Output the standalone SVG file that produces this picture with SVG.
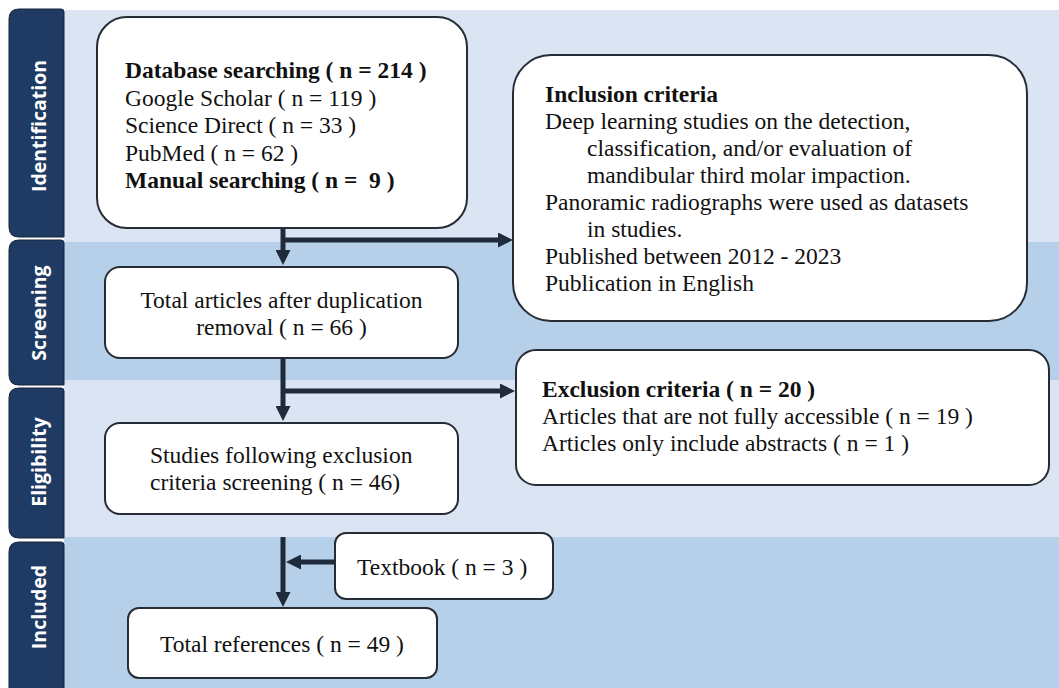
<svg xmlns="http://www.w3.org/2000/svg" width="1059" height="688" viewBox="0 0 1059 688">
<style>
.band-light{fill:#dae4f3}
.band-dark{fill:#b7d0ea}
.tab{fill:#1f3a63;stroke:#16243a;stroke-width:1}
.tabtxt{font-family:"Open Sans","DejaVu Sans",sans-serif;font-weight:bold;font-size:19.5px;fill:#ffffff;text-anchor:middle}
.box{fill:#ffffff;stroke:#262c35;stroke-width:2}
.t{font-family:"Liberation Serif","Times New Roman",serif;font-size:23.5px;fill:#111111}
.b{font-weight:bold}
.c{text-anchor:middle}
.conn{stroke:#1f2b3a;stroke-width:5;fill:none}
</style>
<defs>
<marker id="ah" markerUnits="userSpaceOnUse" markerWidth="16" markerHeight="15" refX="1" refY="7.5" orient="auto">
<path d="M0,0 L15,7.5 L0,15 z" fill="#1f2b3a"/>
</marker>
</defs>
<rect width="1059" height="688" fill="#ffffff"/>
<g id="bands">
<rect class="band-light" x="64" y="10" width="995" height="232"/>
<rect class="band-dark" x="64" y="242" width="995" height="138"/>
<rect class="band-light" x="64" y="380" width="995" height="157"/>
<rect class="band-dark" x="64" y="537" width="995" height="151"/>
</g>
<g id="tab-identification">
<path class="tab" d="M19,9 H61 Q64,9 64,12 V237 H19 Q9,237 9,227 V19 Q9,9 19,9 z"/>
<text class="tabtxt" transform="translate(46,126) rotate(-90)">Identification</text>
</g>
<g id="tab-screening">
<path class="tab" d="M19,240 H61 Q64,240 64,243 V385 H19 Q9,385 9,375 V250 Q9,240 19,240 z"/>
<text class="tabtxt" transform="translate(46,313) rotate(-90)">Screening</text>
</g>
<g id="tab-eligibility">
<path class="tab" d="M19,388 H61 Q64,388 64,391 V538 H19 Q9,538 9,528 V398 Q9,388 19,388 z"/>
<text class="tabtxt" transform="translate(46,462) rotate(-90)">Eligibility</text>
</g>
<g id="tab-included">
<path class="tab" d="M19,542 H61 Q64,542 64,545 V692 H9 V552 Q9,542 19,542 z"/>
<text class="tabtxt" transform="translate(46,607) rotate(-90)">Included</text>
</g>
<g id="connectors">
<path class="conn" d="M283,229 V251" marker-end="url(#ah)"/>
<path class="conn" d="M283,240 H499" marker-end="url(#ah)"/>
<path class="conn" d="M283,358 V407" marker-end="url(#ah)"/>
<path class="conn" d="M283,391 H501" marker-end="url(#ah)"/>
<path class="conn" d="M283,537 V593" marker-end="url(#ah)"/>
<path class="conn" d="M335,562 H300" marker-end="url(#ah)"/>
</g>
<g id="database">
<rect class="box" x="97" y="17" width="370" height="211" rx="30"/>
<text class="t b" x="125" y="78">Database searching ( n = 214 )</text>
<text class="t" x="125" y="105.5">Google Scholar ( n = 119 )</text>
<text class="t" x="125" y="133">Science Direct ( n = 33 )</text>
<text class="t" x="125" y="160.5">PubMed ( n = 62 )</text>
<text class="t b" x="125" y="188" xml:space="preserve">Manual searching ( n =  9 )</text>
</g>
<g id="inclusion">
<rect class="box" x="513" y="55" width="514" height="266" rx="38"/>
<text class="t b" x="545" y="102">Inclusion criteria</text>
<text class="t" x="545" y="129">Deep learning studies on the detection,</text>
<text class="t" x="587" y="156">classification, and/or evaluation of</text>
<text class="t" x="587" y="183">mandibular third molar impaction.</text>
<text class="t" x="545" y="210">Panoramic radiographs were used as datasets</text>
<text class="t" x="587" y="237">in studies.</text>
<text class="t" x="545" y="264">Published between 2012 - 2023</text>
<text class="t" x="545" y="291">Publication in English</text>
</g>
<g id="total-articles">
<rect class="box" x="105" y="267" width="353" height="91" rx="15"/>
<text class="t c" x="281.5" y="308">Total articles after duplication</text>
<text class="t c" x="281.5" y="335">removal ( n = 66 )</text>
</g>
<g id="exclusion">
<rect class="box" x="516" y="350" width="533" height="135" rx="20"/>
<text class="t b" x="542" y="397">Exclusion criteria ( n = 20 )</text>
<text class="t" x="542" y="424">Articles that are not fully accessible ( n = 19 )</text>
<text class="t" x="542" y="451">Articles only include abstracts ( n = 1 )</text>
</g>
<g id="studies">
<rect class="box" x="105" y="423" width="353" height="91" rx="15"/>
<text class="t" x="150" y="463">Studies following exclusion</text>
<text class="t" x="150" y="490">criteria screening ( n = 46)</text>
</g>
<g id="textbook">
<rect class="box" x="335" y="533" width="218" height="66" rx="11"/>
<text class="t" x="357" y="575">Textbook ( n = 3 )</text>
</g>
<g id="total-references">
<rect class="box" x="128" y="608" width="309" height="70" rx="11"/>
<text class="t" x="160" y="652">Total references ( n = 49 )</text>
</g>
</svg>
